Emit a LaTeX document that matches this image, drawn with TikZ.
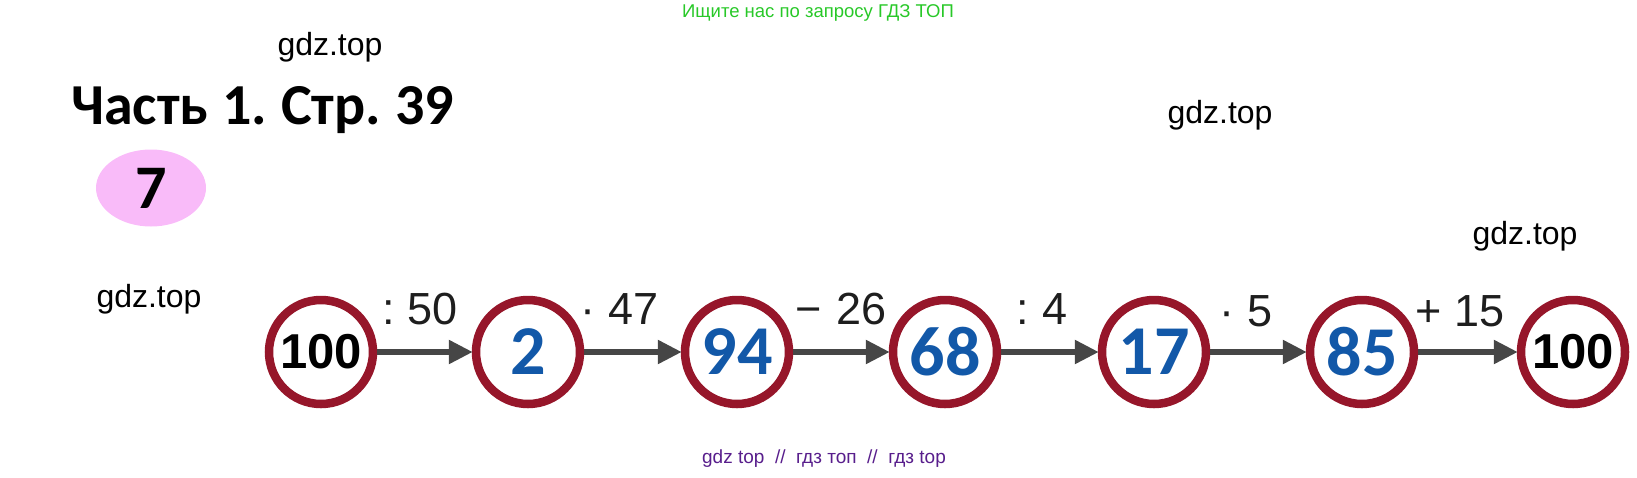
\documentclass[tikz,border=0pt]{standalone}
\usepackage{fontspec}
\setmainfont{Liberation Sans}
\newfontfamily\carlito{Carlito}
\usetikzlibrary{arrows.meta,shapes.geometric}
\definecolor{ringred}{RGB}{150,22,42}
\definecolor{numblue}{RGB}{18,88,168}
\definecolor{arrgray}{RGB}{70,70,70}
\definecolor{pinkfill}{RGB}{249,187,249}
\definecolor{topgreen}{RGB}{40,200,40}
\definecolor{botpurple}{RGB}{88,30,140}
\definecolor{opgray}{RGB}{30,30,30}
\begin{document}
\begin{tikzpicture}[x=1pt,y=-1pt,
  wm/.style={font=\fontsize{32}{36}\selectfont, text=black, inner sep=0pt},
  ring/.style={circle, draw=ringred, line width=8.5pt, fill=white, minimum size=104pt, inner sep=0pt},
  blacknum/.style={font=\bfseries\fontsize{49}{50}\selectfont, text=black},
  bluenum/.style={font=\carlito\bfseries\fontsize{70}{72}\selectfont, text=numblue},
  arr/.style={draw=arrgray, line width=5.5pt, -{Triangle[length=24pt,width=23pt]}, shorten >=-1pt},
  oplabel/.style={font=\fontsize{45}{47}\selectfont, text=opgray, inner sep=0pt}
]
\useasboundingbox (0,0) rectangle (1637,477);

% header texts
\node[font=\fontsize{18.5}{21}\selectfont, text=topgreen] (top) at (818,13) {Ищите нас по запросу ГДЗ ТОП};
\node[wm] (w1) at (330,47) {gdz.top};
\node[wm] (w2) at (1220,115) {gdz.top};
\node[wm] (w3) at (1525,236) {gdz.top};
\node[wm] (w4) at (149,299) {gdz.top};

\node[anchor=base west, inner sep=0pt, font=\carlito\bfseries\fontsize{58}{60}\selectfont] (title) at (71,124) {Часть\hspace{14pt}1.\hspace{14pt}Стр.\hspace{14pt}39};

\node[ellipse, fill=pinkfill, minimum width=110pt, minimum height=77pt, inner sep=0pt,
      font=\carlito\bfseries\fontsize{62}{64}\selectfont] (badge) at (151,188) {7};

% chain
\node[ring, blacknum] (c1) at (321,352) {100};
\node[ring, bluenum] (c2) at (528,352) {2};
\node[ring, bluenum] (c3) at (737,352) {94};
\node[ring, bluenum] (c4) at (945,352) {68};
\node[ring, bluenum] (c5) at (1154,352) {17};
\node[ring, bluenum] (c6) at (1362,352) {85};
\node[ring, blacknum] (c7) at (1573,352) {100};

\draw[arr] (c1) -- (c2);
\draw[arr] (c2) -- (c3);
\draw[arr] (c3) -- (c4);
\draw[arr] (c4) -- (c5);
\draw[arr] (c5) -- (c6);
\draw[arr] (c6) -- (c7);

\node[oplabel] (o1) at (420,309) {:\hspace{13pt}50};
\node[oplabel] (o2) at (620,309) {·\hspace{13pt}47};
\node[oplabel] (o3) at (841,309) {−\hspace{14pt}26};
\node[oplabel] (o4) at (1042,309) {:\hspace{13pt}4};
\node[oplabel] (o5) at (1246,311) {·\hspace{13pt}5};
\node[oplabel] (o6) at (1460,311) {+\hspace{13pt}15};

\node[font=\fontsize{19}{21}\selectfont, text=botpurple] (bottom) at (824,459) {gdz top\ \ //\ \ гдз топ\ \ //\ \ гдз top};
\end{tikzpicture}
\end{document}
